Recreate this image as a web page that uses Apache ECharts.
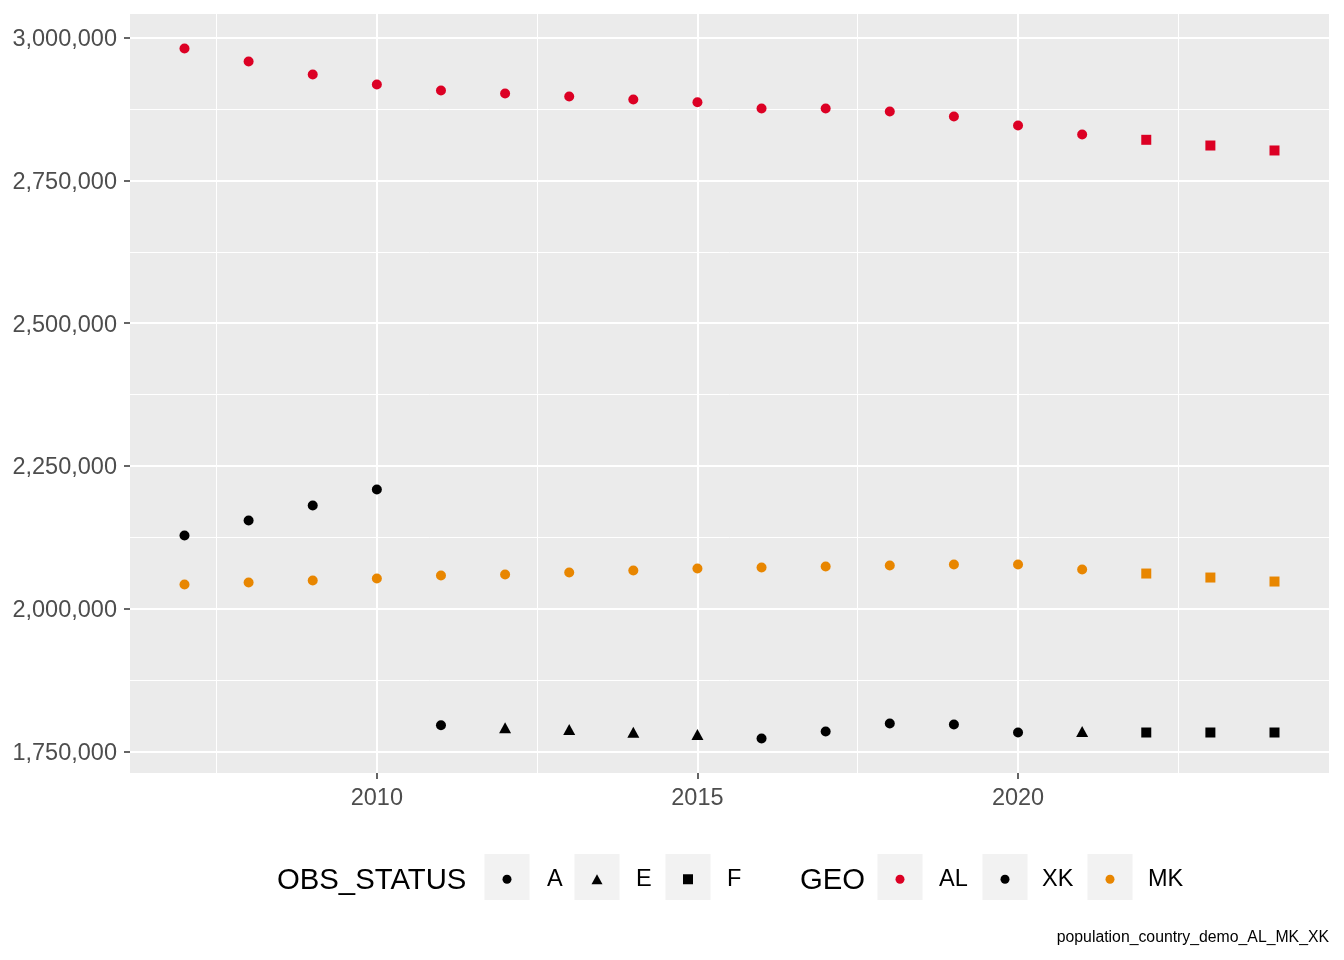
<!DOCTYPE html>
<html><head><meta charset="utf-8">
<script src="https://cdn.jsdelivr.net/npm/echarts@6/dist/echarts.min.js"></script>
<style>html,body{margin:0;padding:0;background:#fff}#c{width:1344px;height:960px}</style>
</head><body><div id="c"></div>
<script>
// ---- data ----
const years = [2007,2008,2009,2010,2011,2012,2013,2014,2015,2016,2017,2018,2019,2020,2021,2022,2023,2024];
const alPop = [2981100,2958300,2935600,2918000,2907500,2902300,2897000,2891800,2887000,2876000,2876000,2870800,2862000,2846200,2830500,2821200,2811200,2802500];
const alStatus = ['A','A','A','A','A','A','A','A','A','A','A','A','A','A','A','F','F','F'];
const xkPop = [2128200,2154500,2180700,2208800,1796000,1791400,1788400,1783700,1779700,1772700,1784900,1799000,1797200,1783200,1784900,1783200,1783200,1783200];
const xkStatus = ['A','A','A','A','A','E','E','E','E','A','A','A','A','A','E','F','F','F'];
const mkPop = [2042300,2045800,2049300,2052800,2058100,2059800,2063300,2066800,2070300,2072100,2073800,2075600,2077300,2077300,2068600,2061600,2054600,2047600];
const mkStatus = ['A','A','A','A','A','A','A','A','A','A','A','A','A','A','A','F','F','F'];
const statusLevels = ['A','E','F'];
const geoLevels = ['AL','XK','MK'];
const yTicks = [1750000,2000000,2250000,2500000,2750000,3000000];
const yMinor = [1875000,2125000,2375000,2625000,2875000];
const xTicks = [2010,2015,2020];
const xMinor = [2007.5,2012.5,2017.5,2022.5];
const captionText = 'population_country_demo_AL_MK_XK';

// ---- styles ----
const FONT = '"Liberation Sans", Arial, sans-serif';
const SHAPE = {A:'circle', E:'triangle', F:'rect'};
const SIZE = {A:10, E:[12,11], F:10};
const GEO_COLOR = {AL:'#DC0024', XK:'#000000', MK:'#E88600'};
const GEO_DATA = {AL:[alPop, alStatus], XK:[xkPop, xkStatus], MK:[mkPop, mkStatus]};

const allPop = alPop.concat(xkPop, mkPop);
const lo = Math.min(...allPop), hi = Math.max(...allPop), pad = (hi - lo) * 0.05;
const xPad = (years[years.length-1] - years[0]) * 0.05;

function pts(pop, status) {
  return years.map((y, i) => ({value: [y, pop[i]], symbol: SHAPE[status[i]], symbolSize: SIZE[status[i]]}));
}

const gridLines = [].concat(
  yMinor.map(v => ({yAxis: v, lineStyle: {color:'#fff', width:1, type:'solid'}})),
  xMinor.map(v => ({xAxis: v, lineStyle: {color:'#fff', width:1, type:'solid'}})),
  yTicks.map(v => ({yAxis: v, lineStyle: {color:'#fff', width:2, type:'solid'}})),
  xTicks.map(v => ({xAxis: v, lineStyle: {color:'#fff', width:2, type:'solid'}}))
);

const series = [{
  type:'scatter', name:'__grid', data:[], silent:true, z:1,
  markLine:{silent:true, z:1, symbol:'none', animation:false, label:{show:false}, emphasis:{disabled:true}, data: gridLines}
}];
geoLevels.forEach(g => {
  series.push({type:'scatter', name:g, symbol:'circle', itemStyle:{color:GEO_COLOR[g], opacity:1}, z:3,
    data: pts(GEO_DATA[g][0], GEO_DATA[g][1]), animation:false});
});
statusLevels.forEach(s => {
  series.push({type:'scatter', name:s, symbol:SHAPE[s], itemStyle:{color:'#000'}, data:[], animation:false});
});

// legend layout
const keyY = 877;
const LFS = 23.5;
const legendItems = [
  {name:'A', cx:507, lx:547, icon:'circle', w:9, h:9, color:'#000'},
  {name:'E', cx:597, lx:636, icon:'triangle', w:11, h:10, color:'#000'},
  {name:'F', cx:688, lx:727, icon:'rect', w:10, h:10, color:'#000'},
  {name:'AL', cx:900, lx:939, icon:'circle', w:9, h:9, color:GEO_COLOR.AL},
  {name:'XK', cx:1005, lx:1042, icon:'circle', w:9, h:9, color:GEO_COLOR.XK},
  {name:'MK', cx:1110, lx:1148, icon:'circle', w:9, h:9, color:GEO_COLOR.MK}
];
const legends = legendItems.map(it => ({
  data:[{name:it.name, icon:it.icon, itemStyle:{color:it.color, opacity:1}}], left: it.cx - it.w/2, top: keyY - LFS/2 + 2,
  itemWidth: it.w, itemHeight: it.h, padding:0, selectedMode:false, orient:'horizontal',
  textStyle:{fontSize:LFS, color:'#000', fontFamily:FONT, padding:[0,0,0, it.lx - (it.cx + it.w/2 + 5)]}
}));
const boxes = legendItems.map(it => ({type:'rect', left: it.cx - 22.5, top: keyY - 23, z:0, silent:true,
  shape:{width:45, height:46}, style:{fill:'#F2F2F2'}}));

const chart = echarts.init(document.getElementById('c'), null, {renderer:'canvas'});
chart.setOption({
  animation:false,
  backgroundColor:'#ffffff',
  textStyle:{fontFamily:FONT},
  grid:{left:130, right:15, top:14, bottom:187, show:true, backgroundColor:'#EBEBEB', borderWidth:0},
  xAxis:{type:'value', min: years[0] - xPad, max: years[years.length-1] + xPad,
    axisLine:{show:false}, splitLine:{show:false},
    axisTick:{show:true, length:6, lineStyle:{color:'#333', width:1.5}, customValues: xTicks},
    axisLabel:{customValues: xTicks, fontSize:23.5, color:'#4D4D4D', margin:14, fontFamily:FONT, formatter: v => String(v)}},
  yAxis:{type:'value', min: lo - pad, max: hi + pad,
    axisLine:{show:false}, splitLine:{show:false},
    axisTick:{show:true, length:6, lineStyle:{color:'#333', width:1.5}, customValues: yTicks},
    axisLabel:{customValues: yTicks, fontSize:23.5, color:'#4D4D4D', margin:13, fontFamily:FONT,
      formatter: v => '{a|' + Math.round(v).toLocaleString('en-US') + '}',
      rich:{a:{fontSize:23.5, color:'#4D4D4D', fontFamily:FONT, padding:[4,0,0,0]}}}},
  title:[
    {text:'OBS_STATUS', left:277, top:866, padding:0, textStyle:{fontSize:29.3, fontWeight:'normal', color:'#000', fontFamily:FONT}},
    {text:'GEO', left:800, top:866, padding:0, textStyle:{fontSize:29.3, fontWeight:'normal', color:'#000', fontFamily:FONT}},
    {text:captionText, right:15, top:930, padding:0, textStyle:{fontSize:15.8, fontWeight:'normal', color:'#000', fontFamily:FONT}}
  ],
  legend: legends,
  graphic: boxes,
  series: series
});
</script></body></html>
